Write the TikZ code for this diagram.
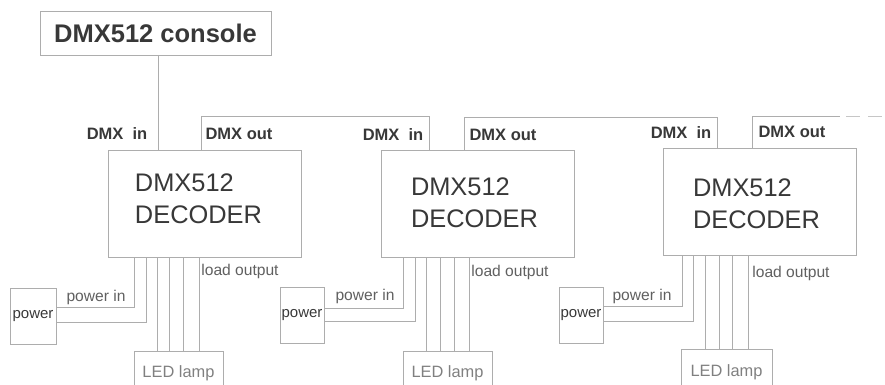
\documentclass[tikz,border=0pt]{standalone}
\usepackage{fontspec}
\setmainfont{Liberation Sans}
\usepackage{xcolor}
\usetikzlibrary{positioning}
\definecolor{scanline}{gray}{0.68}
\definecolor{scantext}{gray}{0.22}
\tikzset{
    box/.style={draw=scanline, line width=0.7pt, inner sep=0pt, outer sep=0pt, text=scantext}, % every frame
    decoder/.style={box, minimum width=193pt, minimum height=107pt},
    power/.style={box, minimum height=56pt, font=\fontsize{15}{18}\selectfont},
    lamp/.style={box, minimum height=44pt, font=\fontsize{16.4}{20}\selectfont, text=gray},
    wire/.style={draw=scanline, line width=0.7pt},
    dmxlabel/.style={inner sep=0pt, text=scantext, font=\fontsize{16.5}{20}\selectfont\bfseries},
    smalllabel/.style={inner sep=0pt, text=scantext!80, font=\fontsize{15.6}{19}\selectfont},
    dectext/.style={inner sep=0pt, align=left, text=scantext, font=\fontsize{25.4}{32}\selectfont},
}

\begin{document}
\begin{tikzpicture}[x=1pt, y=-1pt]
    \useasboundingbox (0,0) rectangle (885,385);
    \clip (0,0) rectangle (885,385);

    % console
    \node[box, minimum width=231pt, minimum height=44pt, font=\fontsize{25.5}{30}\selectfont\bfseries] (console) at (155.5,33) {DMX512 console};

    % decoders
    \node[decoder] (dec1) at (204.5,204) {};
    \node[decoder] (dec2) at (477.5,203.5) {};
    \node[decoder] (dec3) at (759.5,202) {};
    \node[dectext] (dectext1) at (198.5,199) {DMX512\\DECODER};
    \node[dectext] (dectext2) at (474.5,203) {DMX512\\DECODER};
    \node[dectext] (dectext3) at (756.5,204) {DMX512\\DECODER};

    % power supplies and lamps
    \node[power, minimum width=46pt] (pow1) at (33,316) {power};
    \node[power, minimum width=44pt] (pow2) at (302,315) {power};
    \node[power, minimum width=44pt] (pow3) at (581,315) {power};
    \node[lamp, minimum width=89pt] (lamp1) at (178.5,373) {LED lamp};
    \node[lamp, minimum width=89pt] (lamp2) at (447.5,373) {LED lamp};
    \node[lamp, minimum width=91pt, minimum height=47pt] (lamp3) at (726.5,372.5) {LED lamp};

    % labels
    \foreach \n/\xin/\xout/\yin/\yout/\xpow/\ypow/\xload/\yload in {
        1/117/239/134/134/96/297/240/271,
        2/393/503/135/135/365/296/510/272,
        3/681/792/133/132/642/296/791/273}{
        \node[dmxlabel] (in\n) at (\xin,\yin) {DMX\ \ in};
        \node[dmxlabel] (out\n) at (\xout,\yout) {DMX out};
        \node[smalllabel] (powin\n) at (\xpow,\ypow) {power in};
        \node[smalllabel] (load\n) at (\xload,\yload) {load output};
    }

    % DMX chain
    \coordinate (chainend) at (840,116);
    \coordinate (chainfade) at (882,116);
    \draw[wire] ([xshift=2.5pt]console.south) -- ([xshift=-46.5pt]dec1.north);
    \draw[wire] ([xshift=-3.5pt]dec1.north) -- ++(0,-34) -| ([xshift=-48.5pt]dec2.north);
    \draw[wire] ([xshift=-13.5pt]dec2.north) -- ++(0,-33) -| ([xshift=-42.5pt]dec3.north);
    \draw[wire] ([xshift=-7.5pt]dec3.north) |- (chainend);
    \draw[wire, dash pattern=on 14pt off 8pt, draw=scanline!70] ([xshift=6pt]chainend) -- (chainfade);

    % power and lamp wires
    \foreach \n/\a/\b/\c/\d/\e/\f/\p in {
        1/26/38/49/61/75/91/9,
        2/22/34/45/59/73/88/7,
        3/19/30/42/56/69/85/9}{
        \draw[wire] ([xshift=\a pt]dec\n.south west) |- ([yshift=\p pt]pow\n.east);
        \draw[wire] ([xshift=\b pt]dec\n.south west) |- ([yshift=-6pt]pow\n.east);
        \foreach \w in {\c,\d,\e,\f}
            \draw[wire] ([xshift=\w pt]dec\n.south west) -- ([xshift=\w pt]dec\n.south west |- lamp\n.north);
    }
\end{tikzpicture}
\end{document}
